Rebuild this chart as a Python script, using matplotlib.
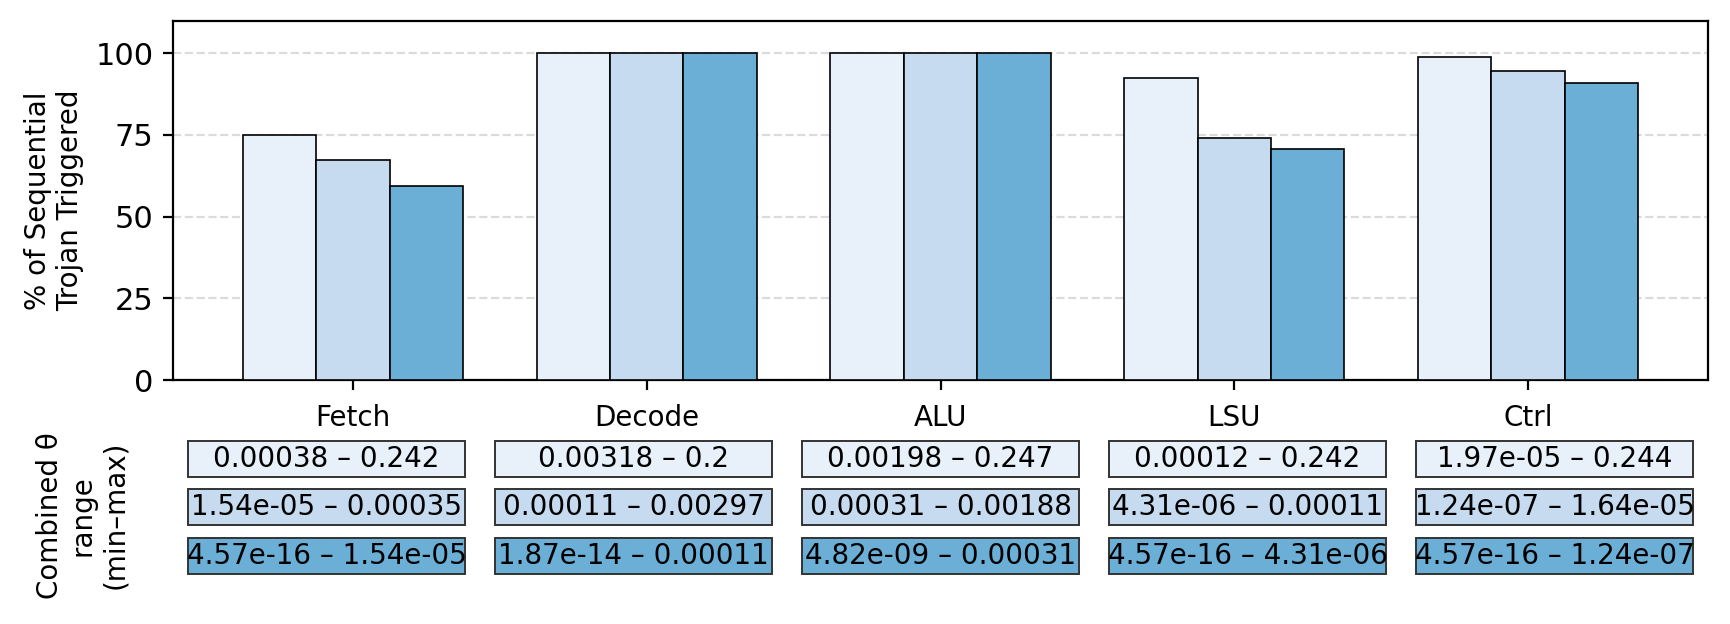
import numpy as np
import matplotlib
matplotlib.use("Agg")
import matplotlib.pyplot as plt
from matplotlib.patches import Rectangle

# Units and the share of sequential trojans triggered (3 settings each)
units = ["Fetch", "Decode", "ALU", "LSU", "Ctrl"]
triggered_1 = [75.0, 100.0, 100.0, 92.4, 98.8]
triggered_2 = [67.3, 100.0, 100.0, 74.0, 94.6]
triggered_3 = [59.5, 100.0, 100.0, 70.7, 91.0]

# Combined theta ranges (min - max) per unit, one list per setting
theta_range_1 = ["0.00038 – 0.242", "0.00318 – 0.2", "0.00198 – 0.247",
                 "0.00012 – 0.242", "1.97e-05 – 0.244"]
theta_range_2 = ["1.54e-05 – 0.00035", "0.00011 – 0.00297", "0.00031 – 0.00188",
                 "4.31e-06 – 0.00011", "1.24e-07 – 1.64e-05"]
theta_range_3 = ["4.57e-16 – 1.54e-05", "1.87e-14 – 0.00011", "4.82e-09 – 0.00031",
                 "4.57e-16 – 4.31e-06", "4.57e-16 – 1.24e-07"]

colors = ["#e8f0f9", "#c6dbef", "#6baed6"]

fig = plt.figure(figsize=(8.65, 3.12), dpi=200)
ax = fig.add_axes([0.1, 0.391, 0.8873, 0.576])

x = np.arange(len(units))
width = 0.25
series = [triggered_1, triggered_2, triggered_3]
for i, vals in enumerate(series):
    ax.bar(x + (i - 1) * width, vals, width, color=colors[i],
           edgecolor="black", linewidth=0.6, zorder=3)

ax.set_ylim(0, 110)
ax.set_yticks([0, 25, 50, 75, 100])
ax.set_xticks(x)
ax.set_xticklabels(units, fontsize=10)
ax.tick_params(axis="x", pad=5)
ax.tick_params(axis="y", labelsize=11)
ax.grid(axis="y", linestyle="--", color="#cccccc", alpha=0.7, linewidth=0.8, zorder=0)
ax.set_ylabel("% of Sequential\nTrojan Triggered", fontsize=10)

# Table of theta ranges under the axis
rows = [theta_range_1, theta_range_2, theta_range_3]
row_y = [-0.219, -0.354, -0.49]
box_w, box_h = 0.18, 0.1
for r, labels in enumerate(rows):
    for j, txt in enumerate(labels):
        cx = (j + 0.5) / len(units)
        ax.add_patch(Rectangle((cx - box_w / 2, row_y[r] - box_h / 2), box_w, box_h,
                               transform=ax.transAxes, facecolor=colors[r],
                               edgecolor="#333333", linewidth=0.7, clip_on=False))
        ax.text(cx, row_y[r], txt, transform=ax.transAxes, ha="center",
                va="center", fontsize=10)

ax.text(-0.059, -0.376, "Combined θ\nrange\n(min–max)", transform=ax.transAxes,
        rotation=90, ha="center", va="center", fontsize=10, multialignment="center")

fig.savefig("out.png", dpi=200)
